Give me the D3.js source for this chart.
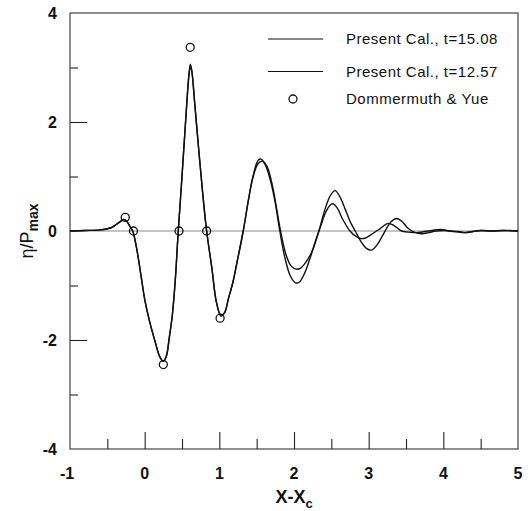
<!DOCTYPE html>
<html>
<head>
<meta charset="utf-8">
<script src="https://cdn.jsdelivr.net/npm/d3@7"></script>
<style>
  body { margin: 0; background: #fff; }
  svg { display: block; font-family: "Liberation Sans", Arial, sans-serif; }
</style>
</head>
<body>
<div id="chart"></div>
<script>
// Present Cal., t=15.08
const calA = [
  [-1.0, 0.0], [-0.8, 0.01], [-0.6, 0.02], [-0.45, 0.06], [-0.38, 0.12], [-0.32, 0.18],
  [-0.28, 0.21], [-0.24, 0.18], [-0.2, 0.09], [-0.16, 0.0], [-0.11, -0.3], [-0.04, -0.9],
  [0.0, -1.25], [0.07, -1.68], [0.14, -2.03], [0.2, -2.3], [0.25, -2.39], [0.29, -2.3],
  [0.33, -1.95], [0.37, -1.55], [0.41, -0.9], [0.45, 0.0], [0.5, 1.0], [0.555, 2.15],
  [0.595, 2.9], [0.612, 3.06], [0.63, 2.95], [0.67, 2.35], [0.73, 1.4], [0.78, 0.65],
  [0.83, 0.0], [0.9, -0.68], [0.96, -1.3], [1.02, -1.56], [1.07, -1.5], [1.12, -1.25],
  [1.18, -0.95], [1.23, -0.62], [1.32, 0.0], [1.39, 0.57], [1.45, 1.0], [1.52, 1.3],
  [1.56, 1.32], [1.62, 1.2], [1.68, 0.95], [1.745, 0.55], [1.81, 0.0], [1.88, -0.5],
  [1.95, -0.82], [2.02, -0.95], [2.07, -0.94], [2.14, -0.78], [2.21, -0.52], [2.28, -0.22],
  [2.35, 0.08], [2.42, 0.42], [2.49, 0.66], [2.55, 0.74], [2.61, 0.64], [2.68, 0.42],
  [2.75, 0.18], [2.82, 0.0], [2.9, -0.2], [2.97, -0.32], [3.04, -0.35], [3.11, -0.26],
  [3.18, -0.1], [3.24, 0.05], [3.3, 0.17], [3.375, 0.23], [3.45, 0.17], [3.52, 0.06],
  [3.58, 0.0], [3.65, -0.04], [3.72, -0.05], [3.8, -0.03], [3.9, 0.0], [4.0, 0.01],
  [4.1, 0.0], [4.2, -0.01], [4.3, -0.03], [4.4, -0.01], [4.5, 0.01], [4.65, 0.0],
  [4.8, 0.01], [5.0, 0.0]
];

// Present Cal., t=12.57
const calB = [
  [-1.0, 0.0], [-0.8, 0.01], [-0.6, 0.02], [-0.45, 0.06], [-0.38, 0.12], [-0.32, 0.18],
  [-0.28, 0.21], [-0.24, 0.18], [-0.2, 0.09], [-0.16, 0.0], [-0.11, -0.3], [-0.04, -0.9],
  [0.0, -1.25], [0.07, -1.68], [0.14, -2.03], [0.2, -2.3], [0.25, -2.39], [0.29, -2.3],
  [0.33, -1.95], [0.37, -1.55], [0.41, -0.9], [0.45, 0.0], [0.5, 1.0], [0.555, 2.15],
  [0.598, 2.92], [0.615, 3.02], [0.635, 2.9], [0.67, 2.35], [0.73, 1.4], [0.78, 0.65],
  [0.83, 0.0], [0.9, -0.68], [0.96, -1.3], [1.02, -1.54], [1.07, -1.5], [1.12, -1.25],
  [1.18, -0.95], [1.23, -0.62], [1.32, 0.0], [1.39, 0.57], [1.45, 0.98], [1.52, 1.24],
  [1.58, 1.28], [1.64, 1.18], [1.7, 0.9], [1.75, 0.55], [1.82, 0.0], [1.89, -0.42],
  [1.96, -0.64], [2.03, -0.7], [2.09, -0.68], [2.16, -0.57], [2.24, -0.38], [2.3, -0.15],
  [2.36, 0.1], [2.42, 0.33], [2.48, 0.47], [2.52, 0.5], [2.58, 0.42], [2.65, 0.22],
  [2.75, 0.0], [2.83, -0.1], [2.9, -0.14], [2.97, -0.12], [3.05, -0.05], [3.15, 0.04],
  [3.26, 0.14], [3.34, 0.1], [3.44, 0.0], [3.54, -0.02], [3.64, -0.03], [3.75, -0.01],
  [3.85, 0.01], [3.96, 0.03], [4.08, 0.0], [4.2, -0.02], [4.28, -0.03], [4.38, -0.01],
  [4.5, 0.01], [4.65, 0.0], [4.8, 0.01], [5.0, 0.0]
];

// Dommermuth & Yue
const dyX = [-0.26, -0.15, 0.25, 0.46, 0.61, 0.83, 1.01];
const dyY = [0.25, 0.0, -2.45, 0.0, 3.37, 0.0, -1.6];

const xTickLabels = [-1, 0, 1, 2, 3, 4, 5];
const yTickLabels = [-4, -2, 0, 2, 4];
const legendLabels = ['Present Cal., t=15.08', 'Present Cal., t=12.57', 'Dommermuth & Yue'];

const width = 532, height = 511;
const plot = { left: 70, right: 518, top: 13, bottom: 449 };

const svg = d3.select('#chart').append('svg')
    .attr('width', width)
    .attr('height', height);

const x = d3.scaleLinear().domain([-1, 5]).range([plot.left, plot.right]);
const y = d3.scaleLinear().domain([-4, 4]).range([plot.bottom, plot.top]);

// zero line
svg.append('line')
    .attr('x1', plot.left).attr('x2', plot.right)
    .attr('y1', y(0)).attr('y2', y(0))
    .attr('stroke', '#8a8a8a')
    .attr('stroke-width', 1);

// bottom ticks (inward), majors + minors
const xMajor = d3.axisBottom(x).tickValues([0, 1, 2, 3, 4]).tickSize(-17).tickFormat('');
const xMinor = d3.axisBottom(x).tickValues(d3.range(-0.5, 5, 1)).tickSize(-10).tickFormat('');
[xMajor, xMinor].forEach(ax => {
    const g = svg.append('g').attr('transform', `translate(0,${plot.bottom})`).call(ax);
    g.select('.domain').remove();
    g.selectAll('line').attr('stroke', '#222').attr('stroke-width', 1.1);
});

// left ticks (inward)
const yMajor = d3.axisLeft(y).tickValues([-2, 2]).tickSize(-17).tickFormat('');
const yMinor = d3.axisLeft(y).tickValues([-3, -1, 1, 3]).tickSize(-8).tickFormat('');
[yMajor, yMinor].forEach(ax => {
    const g = svg.append('g').attr('transform', `translate(${plot.left},0)`).call(ax);
    g.select('.domain').remove();
    g.selectAll('line').attr('stroke', '#222').attr('stroke-width', 1.1);
});

// frame
svg.append('rect')
    .attr('x', plot.left).attr('y', plot.top)
    .attr('width', plot.right - plot.left).attr('height', plot.bottom - plot.top)
    .attr('fill', 'none')
    .attr('stroke', '#333')
    .attr('stroke-width', 1.1);

// tick labels
svg.selectAll('.xl').data(xTickLabels).enter().append('text')
    .attr('x', d => x(d) + (d < 0 ? -3 : 0))
    .attr('y', 479)
    .attr('text-anchor', 'middle')
    .style('font-size', '16px')
    .style('font-weight', 'bold')
    .style('fill', '#111')
    .text(d => d);

svg.selectAll('.yl').data(yTickLabels).enter().append('text')
    .attr('x', 57)
    .attr('y', d => y(d) + 6)
    .attr('text-anchor', 'end')
    .style('font-size', '16px')
    .style('font-weight', 'bold')
    .style('fill', '#111')
    .text(d => d);

// axis titles
const xt = svg.append('text')
    .attr('x', (plot.left + plot.right) / 2)
    .attr('y', 503)
    .attr('text-anchor', 'middle')
    .style('font-size', '18px')
    .style('font-weight', 'bold')
    .style('fill', '#111');
xt.append('tspan').text('X-X');
xt.append('tspan').attr('dy', 5).style('font-size', '13px').text('c');

const yt = svg.append('text')
    .attr('transform', `translate(33,${(plot.top + plot.bottom) / 2}) rotate(-90)`)
    .attr('text-anchor', 'middle')
    .style('font-size', '18px')
    .style('fill', '#111');
yt.append('tspan').text('η/P');
yt.append('tspan').attr('dy', 5).style('font-size', '14px').style('font-weight', 'bold').text('max');

// curves
const line = d3.line()
    .x(d => x(d[0]))
    .y(d => y(d[1]))
    .curve(d3.curveCatmullRom.alpha(0.5));

[calA, calB].forEach(series => {
    svg.append('path')
        .datum(series)
        .attr('d', line)
        .attr('fill', 'none')
        .attr('stroke', '#111')
        .attr('stroke-width', 1.4);
});

// Dommermuth & Yue circles
svg.selectAll('.dy').data(dyX).enter().append('circle')
    .attr('cx', d => x(d))
    .attr('cy', (d, i) => y(dyY[i]))
    .attr('r', 4)
    .attr('fill', 'none')
    .attr('stroke', '#111')
    .attr('stroke-width', 1.3);

// legend
const legendY = [39, 71.5, 99];
legendLabels.forEach((label, i) => {
    if (i < 2) {
        svg.append('line')
            .attr('x1', 268).attr('x2', 323)
            .attr('y1', legendY[i]).attr('y2', legendY[i])
            .attr('stroke', '#111')
            .attr('stroke-width', 1.1);
    } else {
        svg.append('circle')
            .attr('cx', 293).attr('cy', legendY[i])
            .attr('r', 4)
            .attr('fill', 'none')
            .attr('stroke', '#111')
            .attr('stroke-width', 1.3);
    }
    svg.append('text')
        .attr('x', 346)
        .attr('y', legendY[i] + 5)
        .style('font-size', '15px')
        .style('letter-spacing', '0.5px')
        .style('fill', '#111')
        .text(label);
});
</script>
</body>
</html>
